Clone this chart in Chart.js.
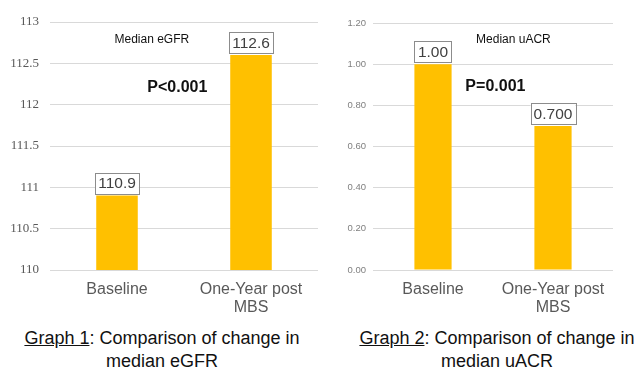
<!DOCTYPE html>
<html>
<head>
<meta charset="utf-8">
<script src="https://cdn.jsdelivr.net/npm/chart.js@4/dist/chart.umd.min.js"></script>
<style>
  body { margin: 0; background: #fff; width: 640px; height: 387px; overflow: hidden; position: relative; font-family: "Liberation Sans", Arial, sans-serif; }
  canvas { position: absolute; top: 0; }
  .cap { position: absolute; color: #111; font-size: 18px; text-align: center; line-height: 23px; white-space: nowrap; }
  .cap u { text-decoration: underline; }
</style>
</head>
<body>
<canvas id="egfrChart" width="320" height="320" style="left:0"></canvas>
<canvas id="uacrChart" width="320" height="320" style="left:320px"></canvas>
<div class="cap" style="left:2px; top:327px; width:320px"><u>Graph 1</u>: Comparison of change in<br>median eGFR</div>
<div class="cap" style="left:337px; top:327px; width:320px"><u>Graph 2</u>: Comparison of change in<br>median uACR</div>
<script>
'use strict'
//////////////////
// Data
//////////////////
const categories = [['Baseline'], ['One-Year post', 'MBS']];
const egfrValues = [110.9, 112.6];
const egfrLabels = ['110.9', '112.6'];
const egfrTicks = [110, 110.5, 111, 111.5, 112, 112.5, 113];
const uacrValues = [1.00, 0.70];
const uacrLabels = ['1.00', '0.700'];
const uacrTicks = [0, 0.2, 0.4, 0.6, 0.8, 1.0, 1.2];

const barColor = '#ffc000';

// boxed value labels above the bars + free text notes
const boxLabels = {
  id: 'boxLabels',
  afterDatasetsDraw(chart, args, opts) {
    const ctx = chart.ctx;
    const meta = chart.getDatasetMeta(0);
    ctx.save();
    ctx.font = '15.5px "Liberation Sans", Arial, sans-serif';
    ctx.textAlign = 'center';
    ctx.textBaseline = 'middle';
    meta.data.forEach((bar, i) => {
      const txt = opts.labels[i];
      const w = Math.max(bar.width, ctx.measureText(txt).width + 6);
      const h = 21;
      const bottom = bar.y - 2;
      ctx.fillStyle = '#fff';
      ctx.fillRect(bar.x - w / 2, bottom - h, w, h);
      ctx.strokeStyle = '#8c8c8c';
      ctx.lineWidth = 1;
      ctx.strokeRect(Math.round(bar.x - w / 2) + 0.5, Math.round(bottom - h) + 0.5, Math.round(w), h);
      ctx.fillStyle = '#404040';
      ctx.fillText(txt, bar.x, bottom - h / 2 + 1);
    });
    const xs = chart.scales.x, ys = chart.scales.y;
    for (const note of opts.notes) {
      ctx.font = note.font;
      ctx.fillStyle = '#111';
      ctx.fillText(note.text, xs.getPixelForValue(note.x), ys.getPixelForValue(note.y));
    }
    ctx.restore();
  }
};

function makeChart(id, values, labels, ticks, opts) {
  return new Chart(document.getElementById(id), {
    type: 'bar',
    data: {
      labels: categories,
      datasets: [{
        data: values,
        backgroundColor: barColor,
        barPercentage: 0.31,
        categoryPercentage: 1
      }]
    },
    options: {
      responsive: false,
      animation: false,
      devicePixelRatio: 1,
      layout: { padding: opts.padding },
      plugins: {
        legend: { display: false },
        tooltip: { enabled: false },
        boxLabels: { labels: labels, notes: opts.notes }
      },
      scales: {
        x: {
          grid: { display: false },
          border: { display: false },
          ticks: {
            color: '#595959',
            font: { size: 16, family: '"Liberation Sans", Arial, sans-serif', lineHeight: 1.1 },
            padding: 3,
            maxRotation: 0
          },
          afterFit(s) { s.height = 50; }
        },
        y: {
          min: ticks[0],
          max: ticks[ticks.length - 1],
          afterBuildTicks(s) { s.ticks = ticks.map(v => ({ value: v })); },
          grid: { color: '#d9d9d9', drawTicks: false },
          border: { display: false },
          ticks: {
            color: opts.tickColor,
            font: opts.tickFont,
            padding: opts.tickPad,
            callback: opts.fmt
          },
          afterFit(s) { s.width = opts.yWidth; }
        }
      }
    },
    plugins: [boxLabels]
  });
}

makeChart('egfrChart', egfrValues, egfrLabels, egfrTicks, {
  padding: { top: 22, right: 2, left: 0, bottom: 0 },
  yWidth: 50,
  tickPad: 11,
  tickColor: '#595959',
  tickFont: { size: 13, family: '"Liberation Serif", "Times New Roman", serif' },
  fmt: v => String(v),
  notes: [
    { text: 'Median eGFR', x: 0.26, y: 112.78, font: '12px "Liberation Sans", Arial, sans-serif' },
    { text: 'P<0.001', x: 0.45, y: 112.21, font: 'bold 16px "Liberation Sans", Arial, sans-serif' }
  ]
});

makeChart('uacrChart', uacrValues, uacrLabels, uacrTicks, {
  padding: { top: 23, right: 27, left: 0, bottom: 0 },
  yWidth: 53,
  tickPad: 7,
  tickColor: '#7f7f7f',
  tickFont: { size: 9.5, family: '"Liberation Sans", Arial, sans-serif' },
  fmt: v => v.toFixed(2),
  notes: [
    { text: 'Median uACR', x: 0.67, y: 1.12, font: '12px "Liberation Sans", Arial, sans-serif' },
    { text: 'P=0.001', x: 0.52, y: 0.89, font: 'bold 16px "Liberation Sans", Arial, sans-serif' }
  ]
});
</script>
</body>
</html>
